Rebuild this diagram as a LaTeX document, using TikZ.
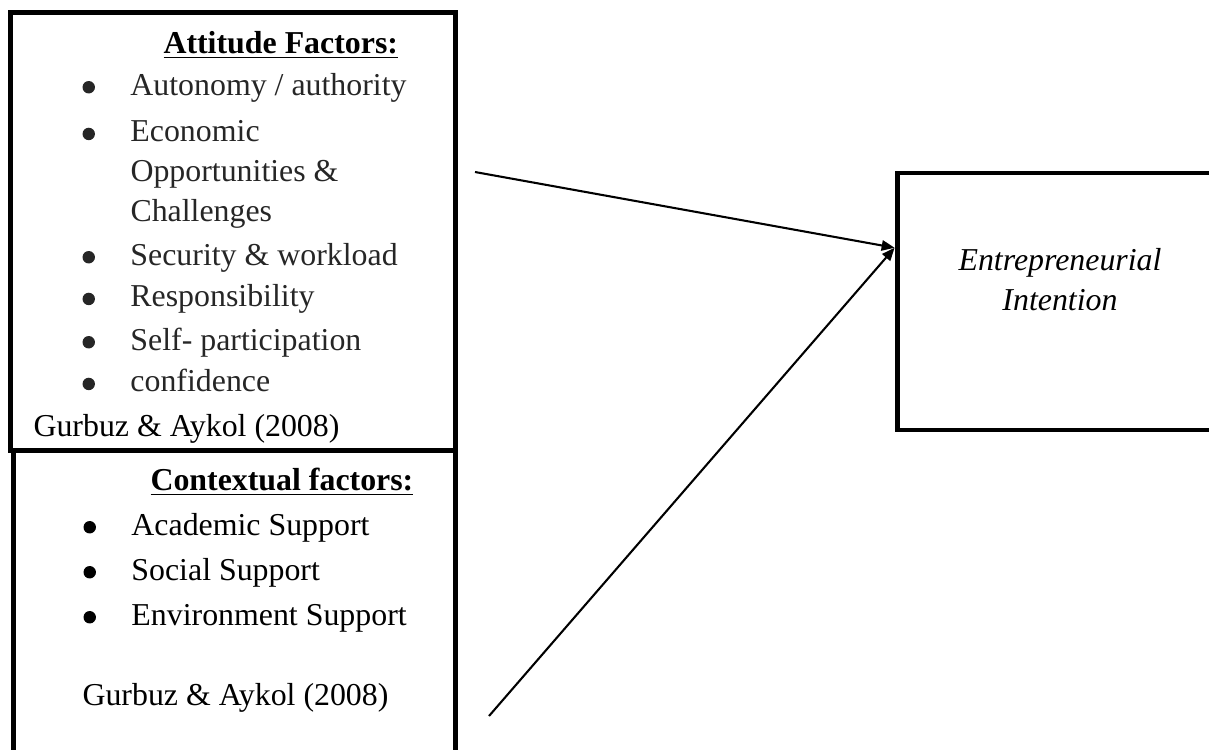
\documentclass[tikz,border=0pt]{standalone}
\usepackage{fontspec}
\setmainfont{Liberation Serif}
\usepackage{tikz}
\usetikzlibrary{arrows.meta}

% round bullet followed by the item text
\newcommand{\itembul}{\makebox[18.5pt][l]{\tikz[baseline=0pt]\fill (2.4pt,3pt) circle (2.4pt);}}

\begin{document}
\begin{tikzpicture}[
    x=0.386pt, y=-0.386pt,
    frame/.style={draw, line width=1.9pt, inner sep=0pt},
    txt/.style={anchor=base west, inner sep=0pt, font=\fontsize{12.3}{15}\selectfont},
    head/.style={txt, font=\fontsize{12.3}{15}\selectfont\bfseries},
    arr/.style={-{Triangle[length=5pt, width=4pt]}, line width=0.8pt}
  ]
    \useasboundingbox (0,0) rectangle (1209,749);

    % boxes
    \node[frame, minimum width=171.8pt, minimum height=168.9pt] (att) at (233,231.3) {};
    \node[frame, minimum width=170.8pt, minimum height=123.5pt] (ctx) at (234.3,610) {};
    \node[frame, minimum width=125.8pt, minimum height=99.2pt] (ei) at (1060,301.5) {};

    % attitude factors
    \node[head] (att-head) at (163,53) {\underline{Attitude Factors:}};
    \begin{scope}[black!85]
    \node[txt] (att-a) at (82,95) {\itembul Autonomy / authority};
    \node[txt] (att-b) at (82,141.7) {\itembul Economic};
    \node[txt] (att-b2) at (130,181.7) {Opportunities \&};
    \node[txt] (att-b3) at (130,221.7) {Challenges};
    \node[txt] (att-c) at (82,265) {\itembul Security \& workload};
    \node[txt] (att-d) at (82,306.7) {\itembul Responsibility};
    \node[txt] (att-e) at (82,350) {\itembul Self- participation};
    \node[txt] (att-f) at (82,391.7) {\itembul confidence};
    \end{scope}
    \node[txt] (att-src) at (33,436) {Gurbuz \& Aykol (2008)};

    % contextual factors
    \node[head] (ctx-head) at (150,490) {\underline{Contextual factors:}};
    \node[txt] (ctx-a) at (83,535) {\itembul Academic Support};
    \node[txt] (ctx-b) at (83,580) {\itembul Social Support};
    \node[txt] (ctx-c) at (83,625) {\itembul Environment Support};
    \node[txt] (ctx-src) at (82,705) {Gurbuz \& Aykol (2008)};

    % outcome
    \node[txt, anchor=base, font=\fontsize{12.3}{15}\selectfont\itshape] (ei-a) at (1060,270) {Entrepreneurial};
    \node[txt, anchor=base, font=\fontsize{12.3}{15}\selectfont\itshape] (ei-b) at (1060,310) {Intention};

    \coordinate (att-out) at (475,172);
    \coordinate (ctx-out) at (489,716);
    \draw[arr] (att-out) -- (ei.162);
    \draw[arr] (ctx-out) -- (ei.162);
  \end{tikzpicture}
\end{document}
